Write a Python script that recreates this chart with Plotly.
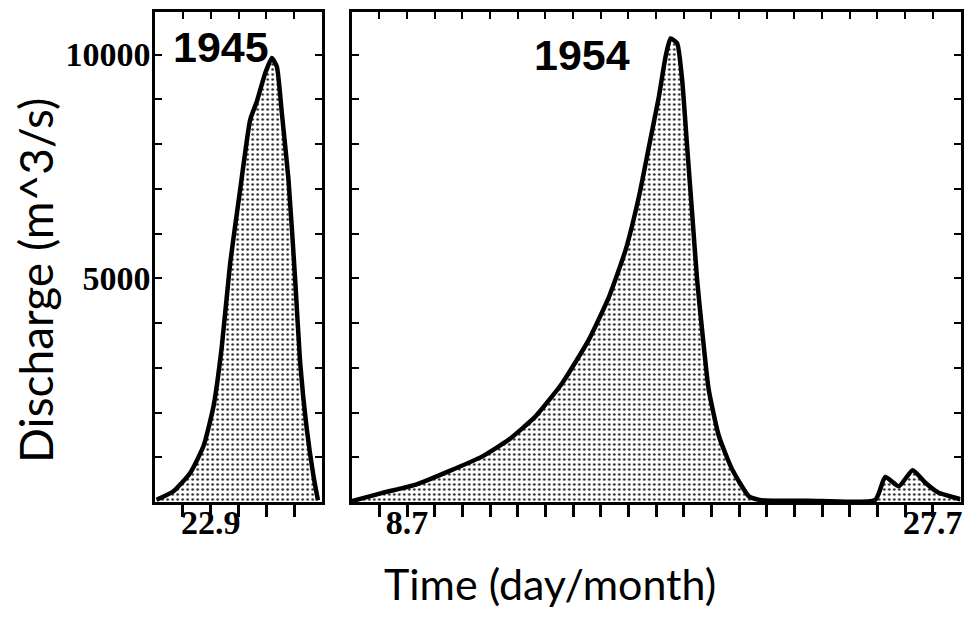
import plotly.graph_objects as go

# Flood hydrographs: discharge (m^3/s) against time, in day-tick units from the panel's left edge
t_1945 = [0.05, 0.66, 1.26, 1.74, 2.10, 2.40, 2.70, 3.06, 3.42, 3.66, 3.96, 4.20,
          4.38, 4.56, 4.80, 5.04, 5.22, 5.46, 5.70, 5.86]
q_1945 = [50, 240, 650, 1250, 2140, 3480, 5340, 6980, 8540, 8950, 9580, 9920,
          9730, 8690, 7200, 4970, 3110, 1620, 580, 40]

t_1954 = [0.0, 1.11, 2.32, 3.52, 4.72, 5.69, 6.65, 7.61, 8.57, 9.30, 9.90, 10.38,
          10.74, 11.10, 11.34, 11.52, 11.76, 11.94, 12.12, 12.30, 12.48, 12.66,
          12.90, 13.27, 13.75, 14.35, 14.8, 16.5, 18.92, 19.28, 19.77, 20.27,
          20.73, 21.21, 21.81, 22.0]
q_1954 = [20, 205, 390, 690, 1020, 1400, 1920, 2660, 3630, 4590, 5640, 6830,
          7940, 9060, 9950, 10360, 10250, 9430, 7940, 6460, 4970, 3850,
          2510, 1470, 725, 130, 40, 30, 50, 560, 350, 710,
          430, 205, 95, 60]

years = ["1945", "1954"]

# Tick positions and labels
x_ticks_1945 = [1, 2, 3, 4, 5]
x_labels_1945 = ["", "22.9", "", "", ""]
x_ticks_1954 = list(range(1, 22))
x_labels_1954 = ["" for _ in x_ticks_1954]
x_labels_1954[1] = "8.7"
x_labels_1954[20] = "27.7"
y_ticks = [1000, 2000, 3000, 4000, 5000, 6000, 7000, 8000, 9000, 10000]
y_labels = ["", "", "", "", "5000", "", "", "", "", "10000"]

Y_MAX = 10950
W, H = 965, 618

pattern = dict(shape=".", size=5, solidity=0.2, fgcolor="#222", bgcolor="white",
               fillmode="replace")
curve_line = dict(color="black", width=4.5, shape="spline", smoothing=0.5)

fig = go.Figure()
fig.add_trace(go.Scatter(x=t_1945, y=q_1945, xaxis="x", yaxis="y", mode="lines",
                         line=curve_line, fill="tozeroy", fillpattern=pattern,
                         showlegend=False, hoverinfo="skip"))
fig.add_trace(go.Scatter(x=t_1954, y=q_1954, xaxis="x2", yaxis="y2", mode="lines",
                         line=curve_line, fill="tozeroy", fillpattern=pattern,
                         showlegend=False, hoverinfo="skip"))
# carriers for the top tick axes
fig.add_trace(go.Scatter(x=t_1945, y=q_1945, xaxis="x3", yaxis="y", mode="none",
                         showlegend=False, hoverinfo="skip"))
fig.add_trace(go.Scatter(x=t_1954, y=q_1954, xaxis="x4", yaxis="y2", mode="none",
                         showlegend=False, hoverinfo="skip"))

tick_font = dict(family="Liberation Serif", size=34, color="black", weight="bold")
dom_y = [1 - 502 / H, 1 - 12 / H]
dom_x1 = [155.5 / W, 322.5 / W]
dom_x2 = [352.5 / W, 962.5 / W]

common_axis = dict(showline=True, linecolor="black", linewidth=3, showgrid=False,
                   zeroline=False, tickcolor="black", tickwidth=2, ticklen=7,
                   fixedrange=True)

bottom_axis = dict(common_axis, ticks="outside", ticklen=12, tickwidth=2.5,
                   tickcolor="black", tickfont=tick_font, ticklabelstandoff=-24,
                   tickmode="array")

fig.update_layout(
    width=W, height=H,
    margin=dict(l=0, r=0, t=0, b=0),
    paper_bgcolor="white", plot_bgcolor="white",
    xaxis=dict(bottom_axis, domain=dom_x1, range=[0, 6], anchor="y",
               tickvals=x_ticks_1945, ticktext=x_labels_1945),
    xaxis3=dict(common_axis, overlaying="x", side="top", anchor="y", range=[0, 6],
                tickmode="array", tickvals=x_ticks_1945, ticks="inside",
                showticklabels=False),
    yaxis=dict(common_axis, domain=dom_y, range=[0, Y_MAX], anchor="x",
               tickmode="array", tickvals=y_ticks, ticktext=y_labels,
               ticks="inside", mirror="ticks", tickfont=tick_font,
               ticklabelstandoff=-5),
    xaxis2=dict(bottom_axis, domain=dom_x2, range=[0, 22], anchor="y2",
                tickvals=x_ticks_1954, ticktext=x_labels_1954),
    xaxis4=dict(common_axis, overlaying="x2", side="top", anchor="y2", range=[0, 22],
                tickmode="array", tickvals=x_ticks_1954, ticks="inside",
                showticklabels=False),
    yaxis2=dict(common_axis, domain=dom_y, range=[0, Y_MAX], anchor="x2",
                tickmode="array", tickvals=y_ticks, ticks="inside", mirror="ticks",
                showticklabels=False),
)

year_font = dict(family="Liberation Sans", size=43, color="black", weight="bold")
fig.add_annotation(text=years[0], x=221.7 / W, y=1 - 46.7 / H, xref="paper", yref="paper",
                   showarrow=False, font=year_font, xanchor="center", yanchor="middle")
fig.add_annotation(text=years[1], x=583 / W, y=1 - 55 / H, xref="paper", yref="paper",
                   showarrow=False, font=year_font, xanchor="center", yanchor="middle")

fig.add_annotation(text="Time (day/month)", x=551 / W, y=1 - 583 / H, xref="paper",
                   yref="paper", showarrow=False,
                   font=dict(family="Lato", size=43, color="black"),
                   xanchor="center", yanchor="middle")
fig.add_annotation(text="Discharge (m^3/s)", x=36 / W, y=1 - 280 / H, xref="paper",
                   yref="paper", showarrow=False,
                   font=dict(family="Lato", size=46, color="black"), textangle=-90,
                   xanchor="center", yanchor="middle")

fig.write_html("out.html")
